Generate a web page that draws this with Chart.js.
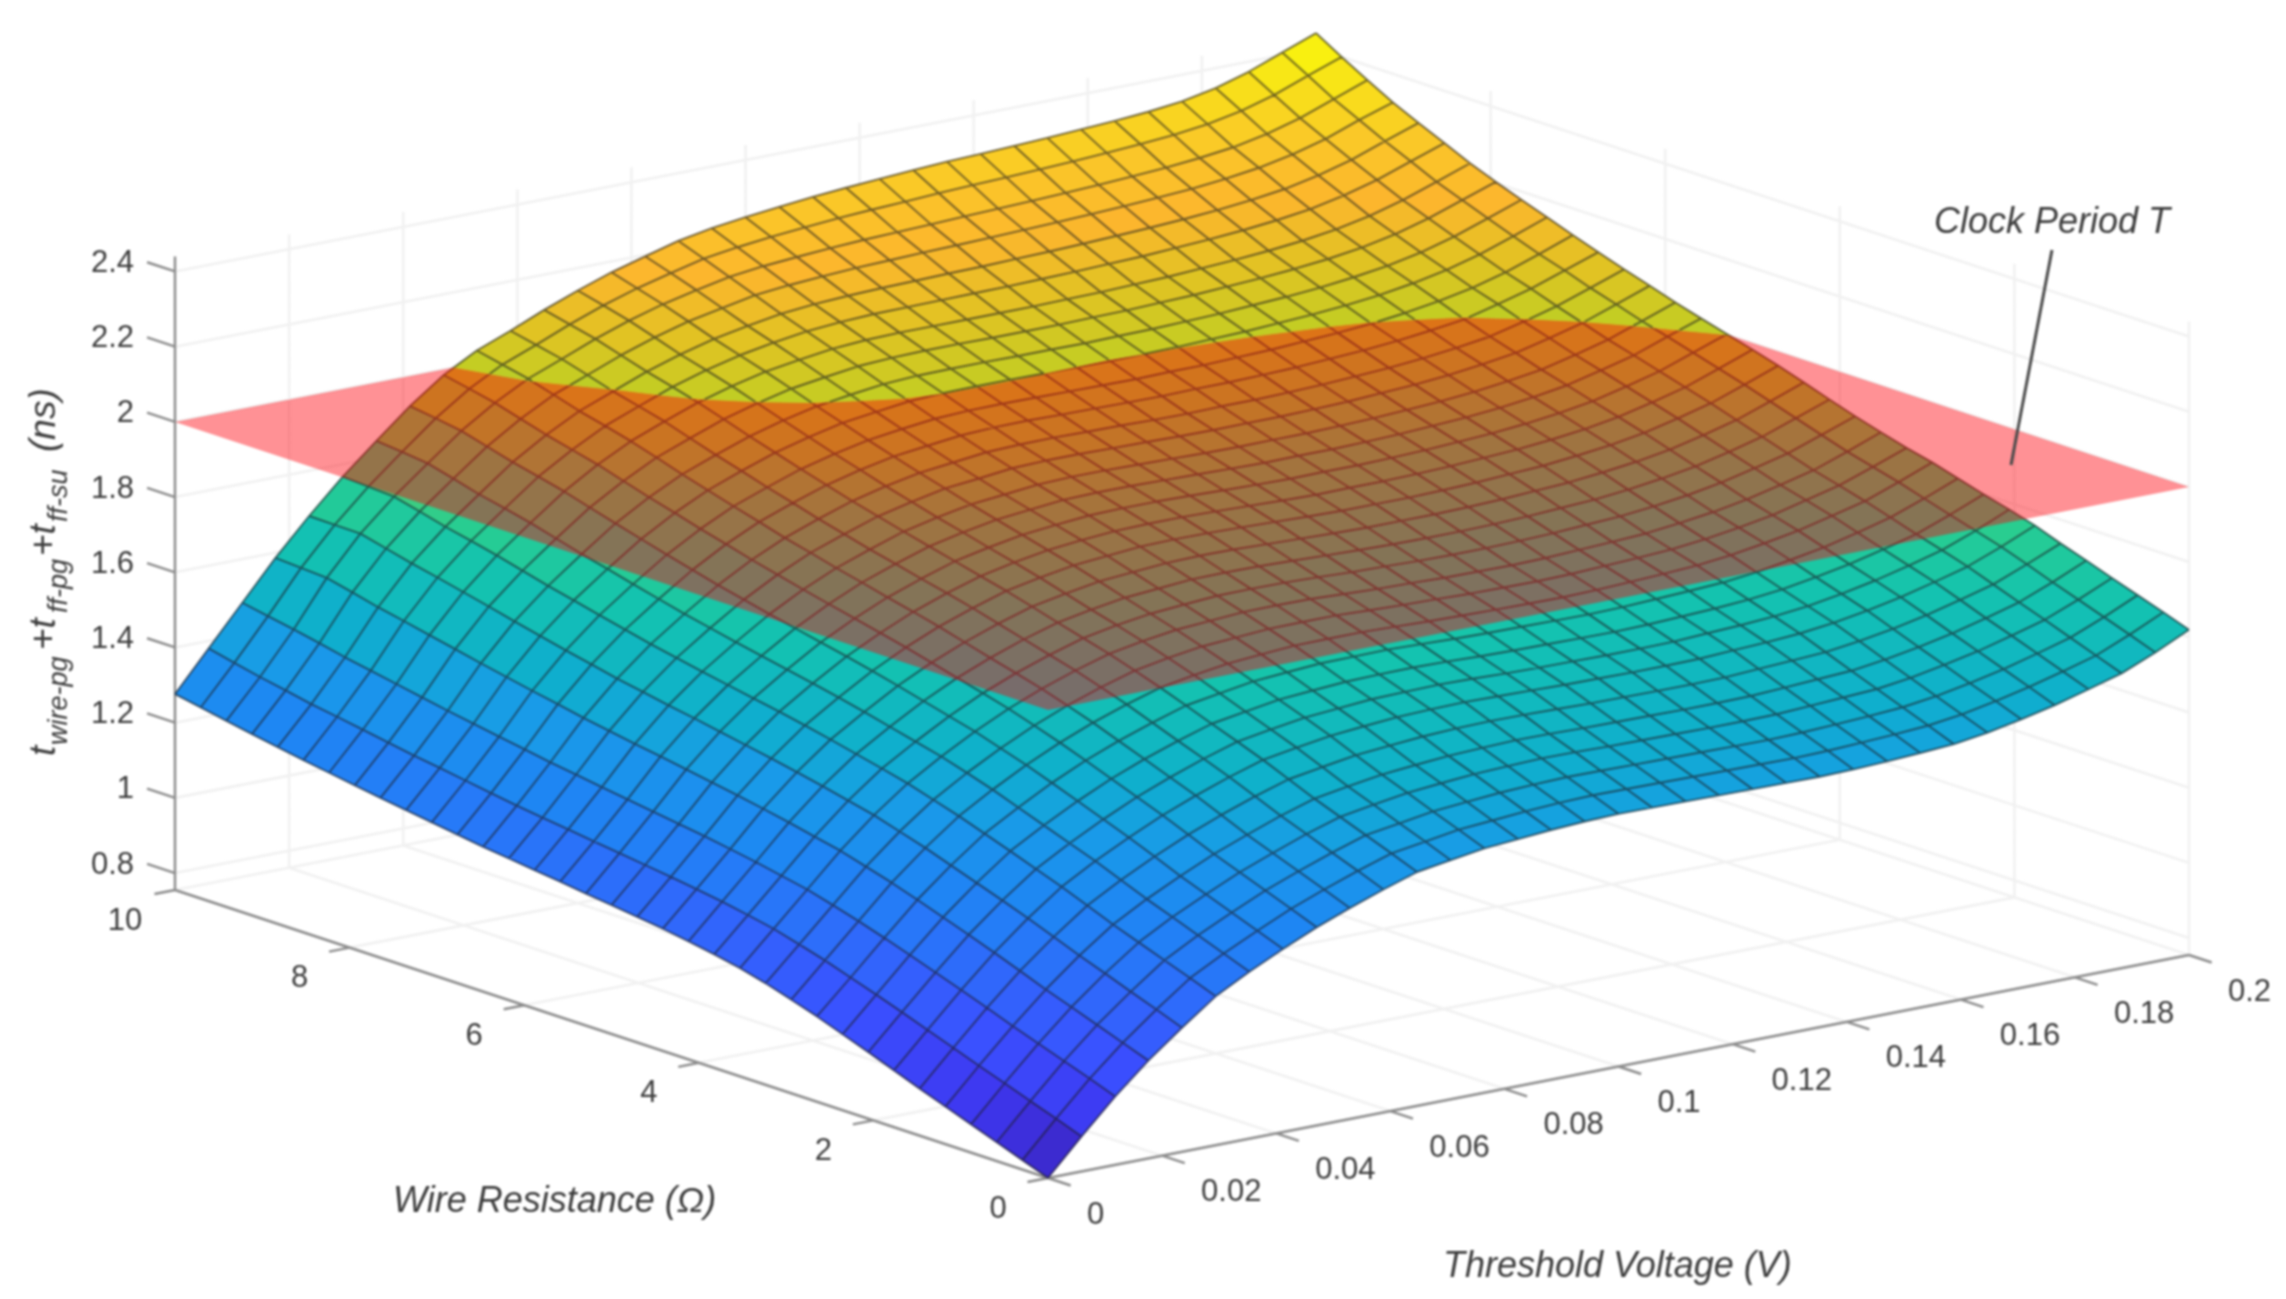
<!DOCTYPE html>
<html>
<head>
<meta charset="utf-8">
<title>Clock period surface</title>
<style>
  html, body { margin: 0; padding: 0; background: #fff; }
  canvas { display: block; filter: blur(1px); }
</style>
<script src="https://cdn.jsdelivr.net/npm/chart.js@4/dist/chart.umd.min.js"></script>
</head>
<body>
<canvas id="surfaceChart" width="2286" height="1299"></canvas>
<script>
// Wire resistance (ohm), one value per row of the delay table
const wireResistance = [0,.294,.588,.882,1.176,1.471,1.765,2.059,2.353,2.647,2.941,3.235,3.529,3.824,4.118,4.412,4.706,5,5.294,5.588,5.882,6.176,6.471,6.765,7.059,7.353,7.647,7.941,8.235,8.529,8.824,9.118,9.412,9.706,10];
// Threshold voltage (V), one value per column of the delay table
const thresholdVoltage = [0,.0059,.0118,.0176,.0235,.0294,.0353,.0412,.0471,.0529,.0588,.0647,.0706,.0765,.0824,.0882,.0941,.1,.1059,.1118,.1176,.1235,.1294,.1353,.1412,.1471,.1529,.1588,.1647,.1706,.1765,.1824,.1882,.1941,.2];
// t_wire-pg + t_ff-pg + t_ff-su in ps
const totalDelayPs = [
[755,848,937,1015,1085,1151,1199,1242,1282,1316,1348,1377,1391,1405,1412,1419,1424,1427,1426,1425,1424,1423,1422,1421,1423,1427,1432,1438,1451,1469,1489,1514,1539,1577,1620],
[780,873,962,1040,1111,1177,1225,1268,1309,1343,1375,1404,1418,1432,1439,1446,1451,1454,1453,1452,1451,1450,1449,1448,1450,1454,1459,1465,1477,1495,1515,1539,1564,1602,1644],
[805,897,986,1065,1136,1202,1251,1294,1335,1369,1401,1430,1444,1458,1466,1473,1477,1480,1479,1478,1477,1476,1475,1474,1476,1480,1485,1491,1503,1520,1540,1564,1589,1626,1667],
[830,922,1010,1090,1162,1227,1277,1320,1361,1395,1428,1456,1471,1485,1493,1500,1504,1507,1506,1504,1503,1502,1501,1501,1502,1507,1512,1517,1529,1546,1565,1589,1614,1650,1690],
[855,946,1034,1114,1187,1252,1302,1346,1387,1421,1454,1482,1497,1511,1519,1526,1530,1533,1532,1530,1529,1528,1527,1527,1528,1533,1538,1543,1555,1571,1590,1613,1638,1674,1714],
[880,971,1060,1141,1214,1280,1330,1375,1416,1451,1483,1511,1526,1540,1548,1555,1559,1561,1560,1558,1556,1555,1554,1554,1555,1560,1565,1570,1582,1597,1616,1639,1663,1699,1737],
[906,996,1085,1167,1241,1307,1358,1403,1445,1480,1512,1540,1555,1569,1577,1584,1587,1589,1587,1585,1583,1582,1581,1581,1582,1587,1591,1597,1608,1623,1641,1664,1688,1723,1762],
[932,1021,1109,1192,1266,1332,1383,1429,1471,1506,1538,1566,1581,1595,1602,1609,1611,1613,1611,1608,1606,1605,1604,1604,1605,1610,1614,1620,1630,1645,1663,1685,1709,1743,1782],
[957,1045,1133,1216,1290,1357,1408,1455,1497,1532,1563,1591,1606,1620,1627,1633,1635,1636,1634,1631,1629,1628,1627,1626,1628,1632,1636,1642,1652,1667,1684,1706,1729,1763,1800],
[982,1068,1156,1240,1314,1381,1433,1481,1523,1558,1589,1617,1632,1646,1653,1659,1660,1661,1658,1655,1653,1652,1651,1650,1652,1656,1660,1665,1675,1690,1706,1728,1751,1784,1820],
[1004,1091,1178,1263,1338,1405,1458,1506,1548,1584,1615,1642,1658,1671,1678,1684,1685,1685,1682,1679,1677,1675,1674,1673,1675,1679,1683,1688,1698,1712,1728,1750,1772,1805,1840],
[1025,1111,1198,1283,1359,1426,1480,1528,1571,1607,1638,1665,1681,1694,1700,1706,1707,1707,1703,1700,1698,1695,1694,1693,1695,1699,1703,1708,1718,1731,1747,1769,1791,1823,1856],
[1043,1130,1217,1303,1380,1447,1501,1550,1593,1629,1660,1687,1703,1716,1722,1728,1729,1728,1724,1720,1718,1715,1714,1713,1715,1719,1723,1728,1738,1750,1766,1787,1809,1841,1875],
[1057,1144,1231,1318,1396,1464,1518,1568,1612,1648,1679,1706,1723,1736,1743,1749,1750,1749,1746,1742,1740,1737,1736,1736,1738,1741,1746,1751,1760,1772,1788,1809,1831,1863,1895],
[1069,1157,1245,1333,1412,1480,1535,1586,1630,1666,1698,1725,1742,1756,1763,1770,1771,1770,1767,1764,1761,1759,1758,1758,1760,1763,1768,1773,1782,1794,1809,1830,1853,1885,1917],
[1080,1168,1257,1347,1427,1496,1552,1604,1648,1685,1717,1745,1762,1777,1784,1791,1793,1792,1789,1786,1783,1781,1781,1781,1783,1786,1791,1796,1805,1816,1831,1852,1875,1907,1940],
[1089,1178,1269,1360,1441,1511,1568,1621,1666,1704,1736,1764,1782,1797,1805,1812,1814,1813,1811,1808,1805,1803,1803,1803,1805,1808,1813,1818,1827,1838,1853,1874,1897,1929,1962],
[1098,1187,1279,1372,1454,1525,1583,1637,1682,1721,1753,1781,1800,1815,1824,1831,1833,1833,1831,1828,1825,1823,1824,1824,1826,1829,1834,1839,1847,1858,1873,1894,1917,1949,1982],
[1106,1196,1289,1384,1467,1538,1597,1652,1698,1737,1769,1798,1817,1833,1842,1850,1852,1852,1850,1847,1845,1843,1844,1844,1846,1849,1854,1859,1867,1878,1892,1914,1937,1969,2001],
[1115,1205,1299,1396,1480,1551,1611,1667,1714,1754,1786,1815,1835,1851,1860,1869,1871,1871,1869,1867,1865,1863,1864,1864,1866,1869,1874,1879,1887,1898,1912,1934,1957,1989,2020],
[1123,1214,1309,1407,1492,1564,1625,1682,1730,1770,1802,1832,1852,1869,1878,1887,1890,1890,1888,1886,1884,1883,1884,1884,1886,1889,1894,1899,1907,1918,1931,1953,1976,2008,2040],
[1132,1223,1320,1419,1505,1578,1640,1698,1747,1788,1820,1850,1871,1889,1898,1908,1911,1911,1909,1908,1906,1905,1906,1906,1908,1911,1916,1921,1929,1940,1953,1975,1998,2030,2062],
[1140,1232,1330,1431,1518,1592,1655,1714,1764,1805,1838,1868,1890,1908,1918,1928,1931,1932,1930,1929,1927,1926,1928,1928,1930,1933,1938,1943,1951,1961,1974,1996,2020,2051,2083],
[1150,1243,1342,1445,1533,1608,1672,1732,1783,1825,1858,1888,1911,1929,1940,1950,1954,1955,1953,1952,1951,1950,1952,1952,1954,1957,1962,1967,1975,1985,1997,2020,2044,2075,2106],
[1160,1254,1353,1458,1548,1624,1689,1750,1801,1844,1877,1908,1931,1950,1962,1972,1976,1977,1976,1975,1974,1973,1975,1975,1978,1981,1986,1991,1998,2009,2023,2041,2065,2096,2129],
[1170,1265,1365,1472,1564,1641,1707,1769,1821,1864,1898,1929,1953,1973,1985,1996,2000,2001,2001,2000,1999,1998,2000,2001,2004,2007,2012,2017,2024,2034,2048,2066,2090,2121,2154],
[1180,1275,1377,1486,1580,1657,1724,1788,1840,1884,1918,1950,1975,1995,2008,2019,2024,2025,2025,2024,2024,2023,2025,2026,2029,2032,2037,2042,2049,2059,2072,2090,2115,2146,2178],
[1191,1287,1390,1501,1597,1675,1743,1808,1861,1906,1940,1973,1998,2019,2032,2044,2049,2051,2051,2050,2050,2050,2052,2053,2056,2059,2064,2069,2076,2085,2098,2116,2141,2172,2203],
[1202,1299,1403,1516,1613,1693,1762,1828,1882,1927,1962,1995,2021,2042,2056,2068,2074,2076,2076,2076,2076,2076,2078,2079,2082,2085,2090,2095,2102,2111,2124,2142,2167,2198,2230],
[1213,1311,1416,1531,1629,1709,1778,1845,1899,1945,1980,2014,2041,2063,2079,2092,2099,2103,2104,2105,2106,2107,2109,2111,2114,2117,2122,2127,2134,2143,2155,2174,2198,2230,2261],
[1225,1322,1429,1545,1644,1724,1793,1861,1916,1962,1997,2032,2060,2084,2101,2116,2124,2129,2132,2134,2136,2137,2140,2142,2145,2149,2153,2158,2165,2174,2186,2205,2229,2261,2292],
[1237,1336,1444,1562,1661,1742,1812,1880,1936,1983,2018,2053,2083,2108,2126,2143,2152,2158,2163,2166,2169,2171,2174,2177,2180,2184,2188,2193,2199,2208,2220,2238,2262,2295,2324],
[1250,1349,1458,1578,1678,1759,1830,1899,1956,2003,2038,2074,2105,2131,2151,2169,2180,2187,2193,2198,2201,2204,2208,2211,2214,2218,2222,2227,2233,2241,2252,2270,2295,2328,2361],
[1263,1364,1471,1582,1679,1763,1838,1910,1971,2018,2053,2090,2123,2151,2174,2195,2208,2218,2226,2233,2238,2242,2247,2251,2254,2258,2262,2267,2273,2280,2291,2309,2334,2368,2400],
[1276,1380,1484,1586,1680,1767,1845,1920,1985,2033,2068,2106,2140,2171,2196,2220,2236,2248,2258,2267,2274,2280,2286,2291,2294,2298,2302,2307,2312,2319,2329,2347,2373,2407,2441]
];
const clockPeriod = 2;

const resistanceTicks = [0, 2, 4, 6, 8, 10];
const voltageTicks = [0, 0.02, 0.04, 0.06, 0.08, 0.1, 0.12, 0.14, 0.16, 0.18, 0.2];
const delayTicks = [0.8, 1, 1.2, 1.4, 1.6, 1.8, 2, 2.2, 2.4];
const delayFloor = 0.755;
const delayTop = 2.44;

const colorStops = [
  [0.755, 58, 32, 180], [0.88, 62, 55, 240], [1.0, 58, 80, 255], [1.1, 50, 100, 252], [1.2, 38, 122, 248],
  [1.28, 30, 135, 243], [1.4, 25, 155, 232], [1.5, 15, 175, 205], [1.65, 20, 195, 175], [1.75, 40, 205, 145],
  [1.85, 90, 205, 105], [1.93, 160, 205, 55], [2.0, 195, 205, 35], [2.08, 225, 195, 35],
  [2.17, 252, 182, 45], [2.26, 250, 200, 40], [2.35, 248, 225, 25], [2.44, 250, 250, 10]
];

// fixed view of the MATLAB axes box, orthographic
function project(r, v, t) {
  const u = r / 10;
  const w = v / 0.2;
  return { x: 1048 - 873 * u + 1141 * w, y: 1178 - 288 * u - 223 * w - 376 * (t - delayFloor) };
}

function delayColor(t) {
  for (let i = 1; i < colorStops.length; i++) {
    if (t <= colorStops[i][0]) {
      const a = colorStops[i - 1];
      const b = colorStops[i];
      const f = Math.max(0, (t - a[0]) / (b[0] - a[0]));
      return 'rgb(' + [1, 2, 3].map(c => Math.round(a[c] + (b[c] - a[c]) * f)).join(',') + ')';
    }
  }
  return 'rgb(250,250,10)';
}

function pathDataset(points, color, width) {
  return { data: points, showLine: true, fill: false, borderColor: color, borderWidth: width, pointRadius: 0, tension: 0, spanGaps: false };
}

function polygonDataset(corners, color, edge) {
  const points = corners.map(c => project(c[0], c[1], c[2]));
  points.push(points[0]);
  return { data: points, showLine: true, fill: 'shape', backgroundColor: color, borderColor: color, borderWidth: edge, pointRadius: 0, tension: 0 };
}

function addSegment(list, a, b) {
  list.push(project(a[0], a[1], a[2]), project(b[0], b[1], b[2]), { x: null, y: null });
}

// the point where an edge goes through the clock period plane
function crossing(a, b) {
  const f = (clockPeriod - a[2]) / (b[2] - a[2]);
  return [a[0] + (b[0] - a[0]) * f, a[1] + (b[1] - a[1]) * f, clockPeriod];
}

function clipCell(corners, keepLow) {
  const out = [];
  corners.forEach((a, i) => {
    const b = corners[(i + 1) % corners.length];
    const aIn = keepLow ? a[2] <= clockPeriod : a[2] >= clockPeriod;
    const bIn = keepLow ? b[2] <= clockPeriod : b[2] >= clockPeriod;
    if (aIn) out.push(a);
    if (aIn !== bIn) out.push(crossing(a, b));
  });
  return out;
}

function addMeshEdge(lowMesh, highMesh, a, b) {
  if (a[2] <= clockPeriod && b[2] <= clockPeriod) {
    addSegment(lowMesh, a, b);
  } else if (a[2] >= clockPeriod && b[2] >= clockPeriod) {
    addSegment(highMesh, a, b);
  } else {
    const c = crossing(a, b);
    addSegment(a[2] < clockPeriod ? lowMesh : highMesh, a, c);
    addSegment(a[2] < clockPeriod ? highMesh : lowMesh, c, b);
  }
}

const node = (i, j) => [wireResistance[i], thresholdVoltage[j], totalDelayPs[i][j] / 1000];
const lastR = wireResistance.length - 1;
const lastV = thresholdVoltage.length - 1;

// walls and floor
const gridLines = [];
delayTicks.forEach(t => {
  addSegment(gridLines, [10, 0, t], [10, 0.2, t]);
  addSegment(gridLines, [10, 0.2, t], [0, 0.2, t]);
});
voltageTicks.forEach(v => {
  addSegment(gridLines, [0, v, delayFloor], [10, v, delayFloor]);
  addSegment(gridLines, [10, v, delayFloor], [10, v, delayTop]);
});
resistanceTicks.forEach(r => {
  addSegment(gridLines, [r, 0, delayFloor], [r, 0.2, delayFloor]);
  addSegment(gridLines, [r, 0.2, delayFloor], [r, 0.2, delayTop]);
});

// axis lines and tick marks
const axisLines = [];
addSegment(axisLines, [0, 0, delayFloor], [10, 0, delayFloor]);
addSegment(axisLines, [0, 0, delayFloor], [0, 0.2, delayFloor]);
addSegment(axisLines, [10, 0, delayFloor], [10, 0, delayTop]);
delayTicks.forEach(t => addSegment(axisLines, [10, 0, t], [10.32, 0, t]));
resistanceTicks.forEach(r => addSegment(axisLines, [r, 0, delayFloor], [r, -0.0036, delayFloor]));
voltageTicks.forEach(v => addSegment(axisLines, [0, v, delayFloor], [-0.26, v, delayFloor]));

// surface cells, back to front, split along the plane
const lowCells = [];
const highCells = [];
const lowMesh = [];
const highMesh = [];
for (let i = lastR - 1; i >= 0; i--) {
  for (let j = lastV - 1; j >= 0; j--) {
    const corners = [node(i, j), node(i + 1, j), node(i + 1, j + 1), node(i, j + 1)];
    const mean = corners.reduce((s, c) => s + c[2], 0) / 4;
    const color = delayColor(mean);
    const low = clipCell(corners, true);
    const high = clipCell(corners, false);
    if (low.length > 2) lowCells.push(polygonDataset(low, color, 0.8));
    if (high.length > 2) highCells.push(polygonDataset(high, color, 0.8));
  }
}
for (let i = 0; i <= lastR; i++) {
  for (let j = 0; j <= lastV; j++) {
    if (i < lastR) addMeshEdge(lowMesh, highMesh, node(i, j), node(i + 1, j));
    if (j < lastV) addMeshEdge(lowMesh, highMesh, node(i, j), node(i, j + 1));
  }
}

const plane = polygonDataset([[0, 0, clockPeriod], [10, 0, clockPeriod], [10, 0.2, clockPeriod], [0, 0.2, clockPeriod]], 'rgba(255,0,10,0.43)', 0);
const meshColor = 'rgba(25,25,30,0.6)';
const paintOrder = [
  pathDataset(gridLines, '#f1f1f1', 2.6),
  pathDataset(axisLines, '#8c8c8c', 2.4),
  ...lowCells,
  pathDataset(lowMesh, meshColor, 1.9),
  plane,
  ...highCells,
  pathDataset(highMesh, meshColor, 1.9),
  pathDataset([{ x: 2052, y: 250 }, { x: 2011, y: 465 }], '#4a4a4a', 3)
];

const axisTextPlugin = {
  id: 'axisText',
  afterDraw(chart) {
    const ctx = chart.ctx;
    const sx = chart.scales.x;
    const sy = chart.scales.y;
    const place = p => ({ x: sx.getPixelForValue(p.x), y: sy.getPixelForValue(p.y) });
    ctx.save();
    ctx.fillStyle = '#3c3c3c';
    ctx.textBaseline = 'middle';
    ctx.font = '31px "Liberation Sans"';

    ctx.textAlign = 'right';
    delayTicks.forEach(t => {
      const p = place(project(10, 0, t));
      ctx.fillText(String(t), p.x - 41, p.y - 8);
    });
    ctx.textAlign = 'center';
    resistanceTicks.forEach(r => {
      const p = place(project(r, 0, delayFloor));
      ctx.fillText(String(r), p.x - 50, p.y + 31);
    });
    ctx.textAlign = 'left';
    voltageTicks.forEach(v => {
      const p = place(project(0, v, delayFloor));
      ctx.fillText(String(v), p.x + 39, p.y + 37);
    });

    ctx.font = 'italic 36px "Liberation Sans"';
    ctx.fillText('Wire Resistance (Ω)', 393, 1202);
    ctx.fillText('Threshold Voltage (V)', 1443, 1267);
    ctx.fillText('Clock Period T', 1934, 223);

    // rotated title with subscripts, pieces placed from the bottom up
    const titleParts = [
      ['t', 37, 55, 756], ['wire-pg', 27, 67, 745], ['+t', 37, 55, 650], ['ff-pg', 27, 67, 613],
      ['+t', 37, 55, 556], ['ff-su', 27, 67, 522], ['(ns)', 37, 55, 452]
    ];
    ctx.textBaseline = 'alphabetic';
    titleParts.forEach(part => {
      ctx.save();
      ctx.translate(part[2], part[3]);
      ctx.rotate(-Math.PI / 2);
      ctx.font = 'italic ' + part[1] + 'px "Liberation Sans"';
      ctx.fillText(part[0], 0, 0);
      ctx.restore();
    });
    ctx.restore();
  }
};

new Chart(document.getElementById('surfaceChart'), {
  type: 'scatter',
  data: { datasets: paintOrder.reverse() },
  options: {
    responsive: false,
    animation: false,
    devicePixelRatio: 1,
    events: [],
    layout: { padding: 0 },
    plugins: { legend: { display: false }, tooltip: { enabled: false } },
    scales: {
      x: { type: 'linear', min: 0, max: 2286, display: false },
      y: { type: 'linear', min: 0, max: 1299, reverse: true, display: false }
    }
  },
  plugins: [axisTextPlugin]
});
</script>
</body>
</html>
